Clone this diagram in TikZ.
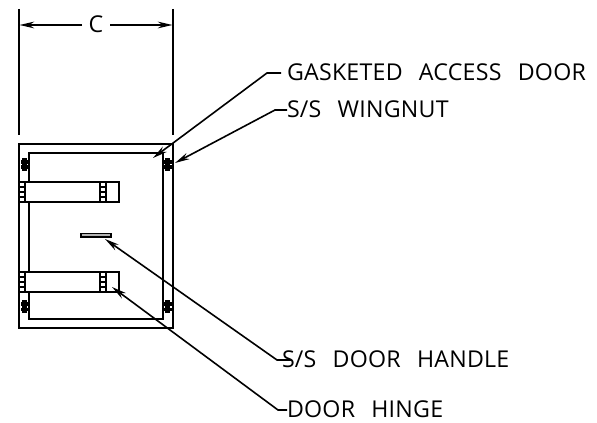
\documentclass[tikz,border=0pt]{standalone}
\usepackage{fontspec}
\setmainfont[LetterSpace=1,WordSpace=2.6]{Open Sans}
\usetikzlibrary{arrows.meta,positioning}

\begin{document}
\begin{tikzpicture}[x=0.75pt,y=-0.75pt,
        every node/.style={label},
        label/.style={inner sep=0pt,outer sep=0pt,anchor=west,text height=12pt,text depth=0pt,font=\fontsize{17.4pt}{18pt}\selectfont},
        line/.style={line width=1.2pt},
        leader/.style={line,-{Stealth[length=11pt,width=5pt]}}]
   \useasboundingbox (0,0) rectangle (597,423);

   % dimension
   \draw[line] (19,9) -- (19,135);
   \draw[line] (173,9) -- (173,135);
   \node (C) [anchor=center] at (96,25) {C};
   \coordinate (Cleft) at (19.5,25);
   \coordinate (Cright) at (172.5,25);
   \draw[leader] (82,25) -- (Cleft);
   \draw[leader] (110,25) -- (Cright);

   % box and door
   \draw[line] (19,144) rectangle (173,328);
   \draw[line width=1.6pt] (74,144) -- (118,144);
   \draw[line] (29,153) rectangle (163,319);

   % hinges
   \foreach \y in {182,272} {
      \draw[line,fill=white] (19,\y) rectangle (119,\y+20);
      \foreach \x in {19,100} {
         \draw[line width=1.5pt] (\x,\y) rectangle (\x+6,\y+20);
         \draw[line] (\x,\y+5) -- (\x+6,\y+5);
         \draw[line] (\x,\y+10) -- (\x+6,\y+10);
         \draw[line] (\x,\y+15) -- (\x+6,\y+15);
      }
   }

   % handle
   \draw[line,fill=gray!60] (81,233.5) rectangle (111,237);

   % wingnuts
   \foreach \x in {24.5,167.5} {
      \foreach \y in {164.5,307} {
         \fill (\x-2.5,\y-6.5) rectangle (\x+2.5,\y+6.5);
         \fill (\x-4,\y-4.5) rectangle (\x+4,\y-0.8);
         \fill (\x-4,\y+0.8) rectangle (\x+4,\y+4.5);
      }
   }

   % callouts
   \node (gasket) at (287,73) {GASKETED ACCESS DOOR};
   \node (wingnut) [below=27.75pt of gasket.west,anchor=west] {S/S WINGNUT};
   \node (handle) at (282,360) {S/S DOOR HANDLE};
   \node (hinge) at (287,410) {DOOR HINGE};

   \coordinate (gasketbend) at (267,73);
   \coordinate (gaskettip) at (153,158);
   \coordinate (wingnutbend) at (275,110);
   \coordinate (wingnuttip) at (175,163);
   \coordinate (handlebend) at (277,360);
   \coordinate (handletip) at (105,239);
   \coordinate (hingebend) at (278,410);
   \coordinate (hingetip) at (112,287);

   \draw[leader] (gasket.west) ++(-6,0) -- (gasketbend) -- (gaskettip);
   \draw[leader] (wingnut.west) -- (wingnutbend) -- (wingnuttip);
   \draw[leader] (handle.west) ++(9,0) -- (handlebend) -- (handletip);
   \draw[leader] (hinge.west) -- (hingebend) -- (hingetip);
\end{tikzpicture}
\end{document}
